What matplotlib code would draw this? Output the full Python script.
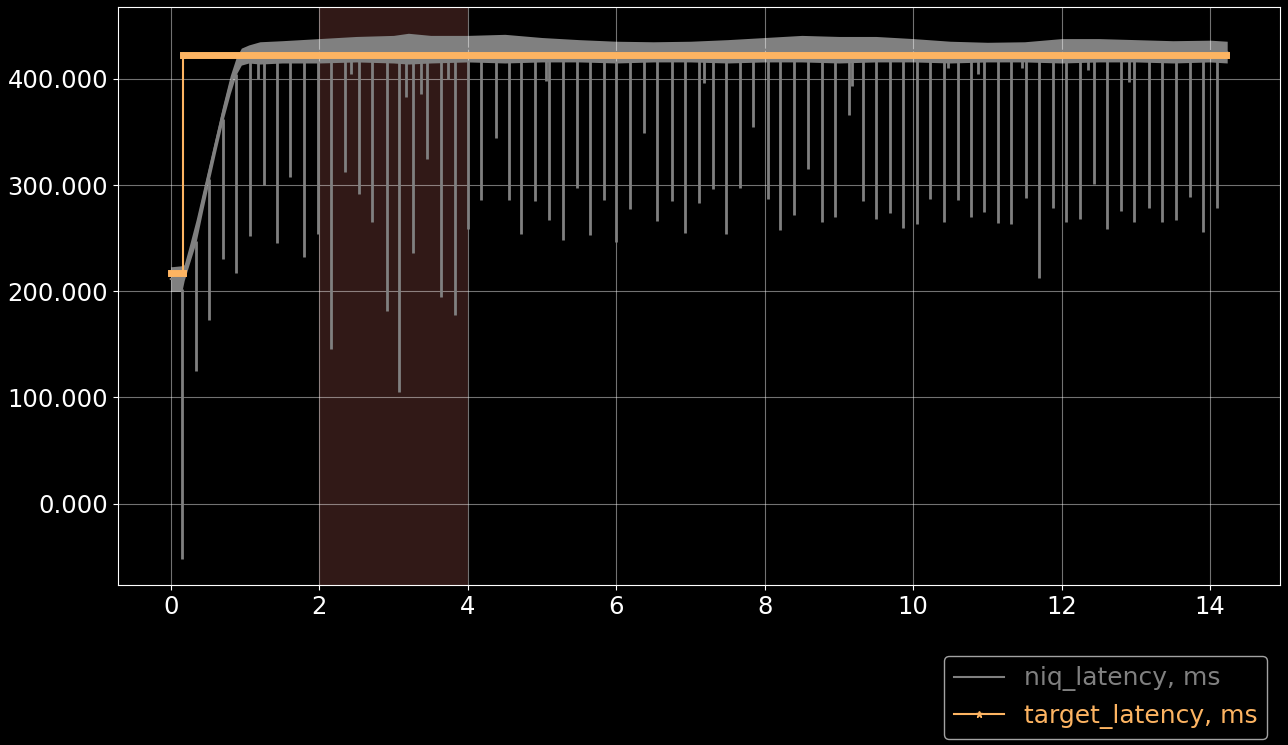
import numpy as np
import matplotlib
matplotlib.use("Agg")
import matplotlib.pyplot as plt
from matplotlib.ticker import FormatStrFormatter

plt.style.use("dark_background")

# niq_latency: envelope of the noisy band
env_t = [0.0, 0.15, 0.18, 0.25, 0.34, 0.43, 0.52, 0.61, 0.70, 0.80, 0.88, 0.95,
         1.05, 1.2, 1.5, 2.0, 2.5, 3.0, 3.2, 3.5, 4.0, 4.5, 5.0, 5.5, 6.0, 6.5,
         7.0, 7.5, 8.0, 8.5, 9.0, 9.5, 10.0, 10.5, 11.0, 11.5, 12.0, 12.5, 13.0,
         13.5, 14.0, 14.23]
env_hi = [223, 224, 225, 243, 267, 294, 321, 348, 375, 403, 420, 429,
          432, 435, 436, 438, 440, 441, 443, 441, 441, 442, 439, 437, 435.5, 435,
          435.5, 437, 439, 441, 440, 440, 438, 435.5, 434.5, 435, 438, 438, 437,
          436, 436.5, 435.5]
env_lo = [200, 200, 210, 226, 246, 276, 305, 333, 360, 386, 404, 413,
          415, 414, 415, 415, 416, 415, 414, 415, 416, 415, 416, 416, 415, 416,
          416, 415, 416, 416, 415, 416, 416, 415, 416, 416, 415, 416, 416,
          415, 416, 415]

# niq_latency: periodic drops (time, lowest value)
dip_t = [0.148, 0.336, 0.516, 0.70, 0.874, 1.063, 1.175, 1.25, 1.43, 1.605,
         1.79, 1.98, 2.157, 2.34, 2.43, 2.53, 2.71, 2.906, 3.08, 3.17, 3.26,
         3.37, 3.45, 3.64, 3.74, 3.83, 4.01, 4.18, 4.38, 4.55, 4.72, 4.91, 5.05,
         5.10, 5.28, 5.47, 5.65, 5.83, 6.00, 6.19, 6.38, 6.55, 6.75, 6.93, 7.11,
         7.18, 7.30, 7.48, 7.67, 7.84, 8.04, 8.21, 8.40, 8.59, 8.77, 8.95, 9.13,
         9.18, 9.32, 9.50, 9.69, 9.86, 10.05, 10.23, 10.42, 10.47, 10.60, 10.78,
         10.87, 10.96, 11.14, 11.32, 11.46, 11.52, 11.70, 11.89, 12.06, 12.25,
         12.36, 12.44, 12.61, 12.80, 12.91, 12.98, 13.18, 13.35, 13.54, 13.73,
         13.91, 14.09]
dip_min = [-52, 125, 173, 230, 217, 252, 400, 300, 245, 308,
           232, 254, 146, 312, 405, 292, 265, 181, 105, 383, 236,
           386, 325, 195, 400, 178, 259, 286, 344, 286, 254, 285, 398,
           267, 248, 297, 253, 286, 246, 277, 349, 266, 285, 255, 283,
           396, 296, 254, 297, 355, 287, 258, 272, 315, 265, 270, 366,
           393, 285, 268, 274, 260, 263, 287, 265, 410, 286, 270,
           405, 275, 264, 263, 410, 288, 212, 278, 265, 268,
           408, 301, 259, 276, 397, 265, 278, 265, 267, 289,
           256, 278]

# target_latency
target_t = [0.0, 0.166, 0.166, 14.22]
target_v = [217, 217, 423, 423]

gray = "#808080"
orange = "#fdb462"

fig = plt.figure(figsize=(12.88, 7.45), dpi=100)
ax = fig.add_axes([0.0916, 0.2148, 0.9022, 0.7758])

ax.axvspan(2, 4, color="#fa8174", alpha=0.2, lw=0)

# gray band + drops
env_t_a = np.array(env_t)
env_hi_a = np.array(env_hi)
env_lo_a = np.array(env_lo)
ax.fill_between(env_t_a, env_lo_a, env_hi_a, color=gray, lw=0)
dip_top = np.interp(dip_t, env_t_a, env_lo_a) + 2
ax.vlines(dip_t, dip_min, dip_top, color=gray, lw=2)
ax.plot(env_t_a, (env_hi_a + env_lo_a) / 2, color=gray, lw=1.5, label="niq_latency, ms")

# target line: thick band of dense markers
ax.plot(target_t[:2], target_v[:2], color=orange, lw=5, solid_capstyle="projecting")
ax.plot(target_t[2:], target_v[2:], color=orange, lw=5, solid_capstyle="projecting")
ax.plot(target_t, target_v, color=orange, lw=1.5, marker="*", ms=5,
        label="target_latency, ms")

ax.grid(True, color="white", alpha=0.45, lw=0.8)
ax.yaxis.set_major_formatter(FormatStrFormatter("%.3f"))
ax.tick_params(labelsize=17.5)

fig.legend(loc="lower right", bbox_to_anchor=(0.9935, -0.0085), fontsize=18,
           labelcolor="linecolor")

plt.savefig("out.png", dpi=100)
